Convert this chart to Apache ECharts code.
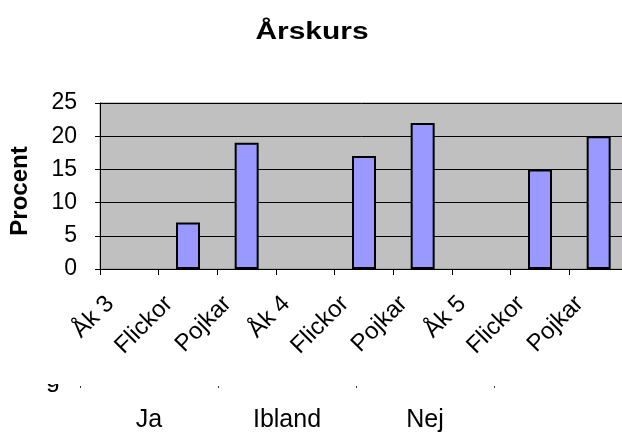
<!DOCTYPE html>
<html>
<head>
<meta charset="utf-8">
<script src="https://cdn.jsdelivr.net/npm/echarts@6/dist/echarts.min.js"></script>
<style>
html, body { margin: 0; padding: 0; background: #fff; }
#chart { width: 622px; height: 433px; }
</style>
</head>
<body>
<div id="chart"></div>
<script>
const titleText = 'Årskurs';
const categories = ['Åk 3', 'Flickor', 'Pojkar', 'Åk 4', 'Flickor', 'Pojkar', 'Åk 5', 'Flickor', 'Pojkar'];
const values = [null, 7, 19, null, 17, 22, null, 15, 20];
const groupLabels = ['Ja', 'Ibland', 'Nej'];
const yTicks = { min: 0, max: 25, interval: 5 };

const font = '"Liberation Sans", Arial, sans-serif';
let myChart = echarts.init(document.getElementById('chart'));

myChart.setOption({
    backgroundColor: '#fff',
    animation: false,
    grid: [
        {
            left: 100, top: 103, width: 528, height: 166,
            show: true, backgroundColor: '#c0c0c0', borderColor: '#8a8a8a', borderWidth: 1,
            outerBoundsMode: 'none', containLabel: false
        },
        {
            left: 80, top: 380, width: 414, height: 6,
            outerBoundsMode: 'none', containLabel: false
        }
    ],
    xAxis: [
        {
            type: 'category',
            gridIndex: 0,
            data: categories,
            axisLine: { lineStyle: { color: '#000', width: 1 } },
            axisTick: { show: true, length: 6, lineStyle: { color: '#000' } },
            axisLabel: {
                interval: 0,
                rotate: 45,
                margin: 12,
                padding: [0, 27, 0, 0],
                fontFamily: font,
                fontSize: 24,
                color: '#000'
            },
            splitLine: { show: false }
        },
        {
            type: 'category',
            gridIndex: 1,
            data: groupLabels,
            axisLine: { show: false },
            axisTick: { show: true, length: 2, lineStyle: { color: '#333' } },
            axisLabel: { interval: 0, margin: 22, fontFamily: font, fontSize: 25, color: '#000' },
            splitLine: { show: false }
        }
    ],
    yAxis: [
        {
            type: 'value',
            gridIndex: 0,
            min: yTicks.min,
            max: yTicks.max,
            interval: yTicks.interval,
            name: 'Procent',
            nameLocation: 'middle',
            nameRotate: 90,
            nameGap: 68,
            nameTextStyle: { fontFamily: font, fontSize: 24, fontWeight: 'bold', color: '#000', padding: [0, 10, 0, 0] },
            axisLine: { show: true, lineStyle: { color: '#000', width: 1 } },
            axisTick: { show: true, length: 5, lineStyle: { color: '#000' } },
            axisLabel: { margin: 23, fontFamily: font, fontSize: 23, color: '#000' },
            splitLine: { show: true, lineStyle: { color: '#000', width: 1 } }
        },
        {
            type: 'value',
            gridIndex: 1,
            show: false
        }
    ],
    graphic: [
        {
            // title, drawn wide like the original
            type: 'text',
            x: 312, y: 33,
            scaleX: 1.3,
            style: {
                text: titleText,
                font: 'bold 23px ' + font,
                fill: '#000',
                align: 'center',
                verticalAlign: 'middle'
            }
        },
        {
            type: 'text',
            left: 46, top: 368,
            style: { text: 'g', font: '25px ' + font, fill: '#000' },
            z: 1
        },
        {
            type: 'rect',
            shape: { x: 36, y: 340, width: 30, height: 44 },
            style: { fill: '#fff' },
            z: 2
        }
    ],
    series: [
        {
            type: 'bar',
            xAxisIndex: 0,
            yAxisIndex: 0,
            data: values,
            barWidth: 24,
            itemStyle: { color: '#9999ff', borderColor: '#000', borderWidth: 2 }
        }
    ]
});

window.addEventListener('resize', function () {
    myChart.resize();
});
</script>
</body>
</html>
